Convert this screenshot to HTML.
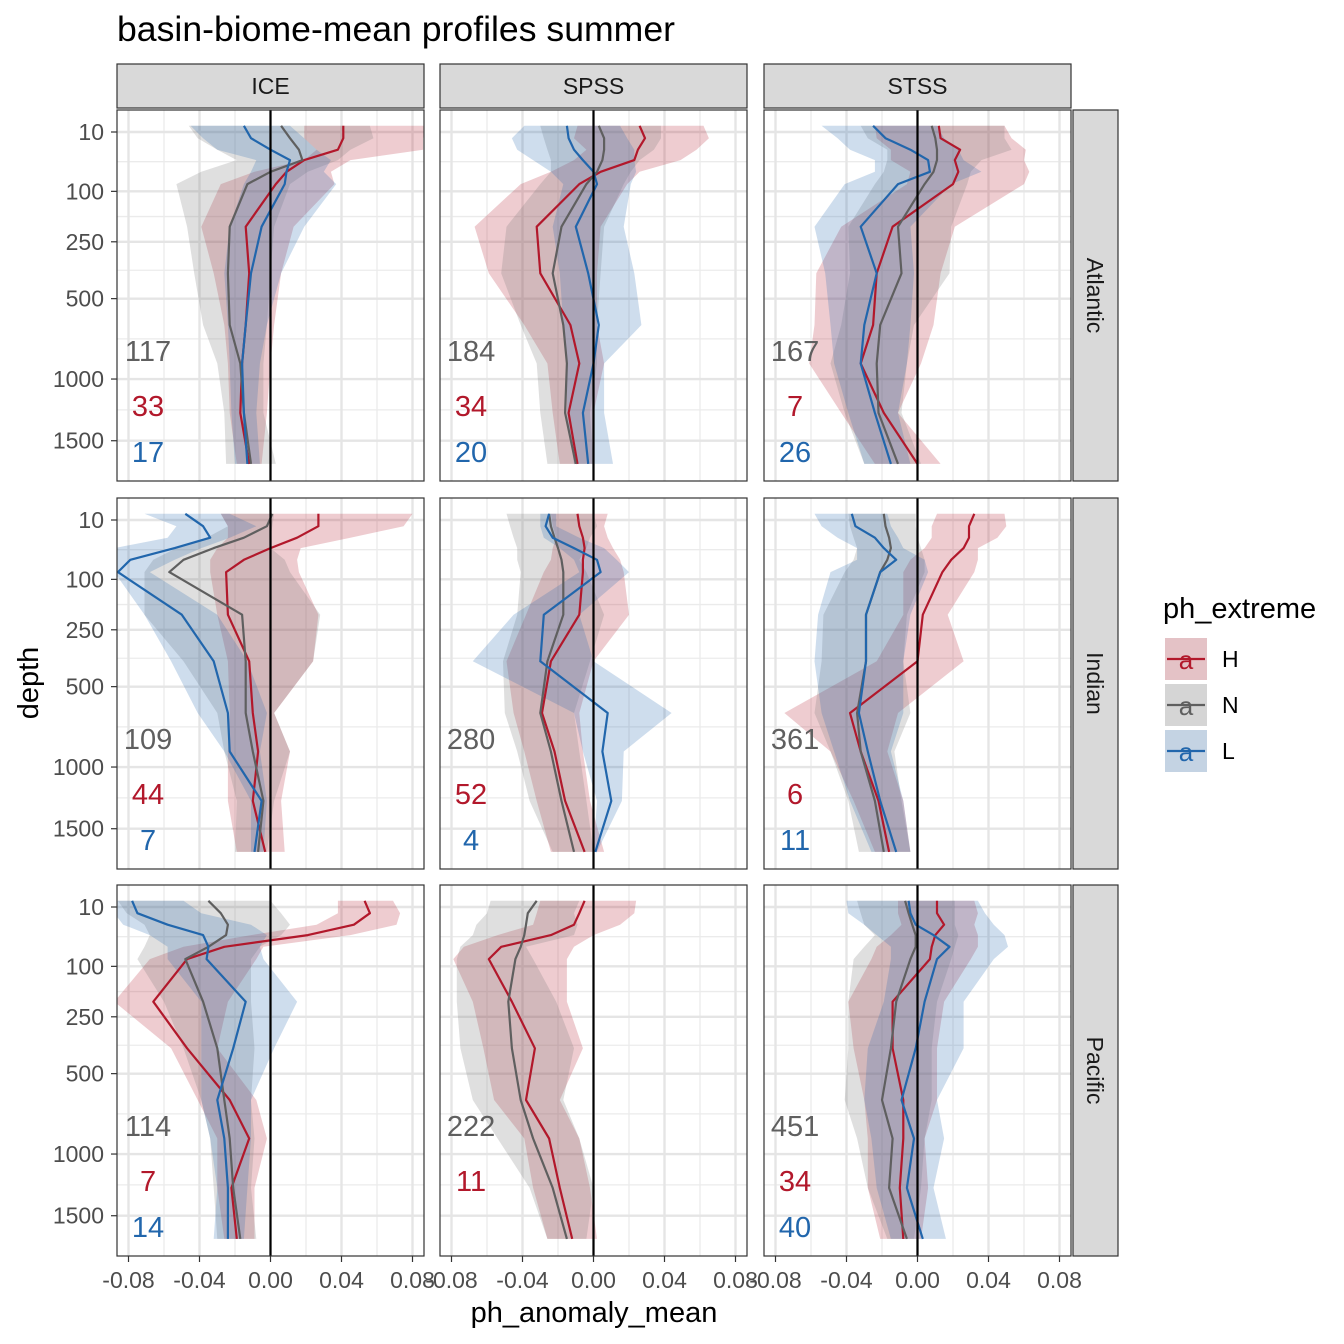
<!DOCTYPE html>
<html><head><meta charset="utf-8">
<style>
html,body{margin:0;padding:0;background:#fff;}
svg{display:block;font-family:"Liberation Sans",Arial,sans-serif;}
</style></head>
<body>
<svg id="chart" width="1344" height="1344" viewBox="0 0 1344 1344" xmlns="http://www.w3.org/2000/svg">
<rect width="1344" height="1344" fill="#fff"/>
<text x="117" y="41" font-size="35" textLength="558" lengthAdjust="spacingAndGlyphs" fill="#000">basin-biome-mean profiles summer</text>
<text x="594" y="1322" font-size="29" text-anchor="middle" fill="#000">ph_anomaly_mean</text>
<text transform="translate(38,683) rotate(-90)" font-size="29" text-anchor="middle" fill="#000">depth</text>
<g id="panels"></g>
<g id="legend">
<text x="1163" y="618" font-size="29" fill="#000">ph_extreme</text>
</g>
</svg>
<script>
// depth levels (m)
const depths = [6, 15, 27, 41, 60, 84, 198, 378, 645, 890, 1262, 1714];
const xTicks = [-0.08, -0.04, 0.00, 0.04, 0.08];
const xTickLabels = ["-0.08", "-0.04", "0.00", "0.04", "0.08"];
const yTicks = [10, 100, 250, 500, 1000, 1500];
const yTickLabels = ["10", "100", "250", "500", "1000", "1500"];
const cols = ["ICE", "SPSS", "STSS"];
const rows = ["Atlantic", "Indian", "Pacific"];
const groups = ["H", "N", "L"];
// values in units of 0.001 pH anomaly
const A_ICE_H_mean = [41,41,38,19,9,3,-14,-12,-14,-16,-17,-12];
const A_ICE_H_lo = [19,19,26,19,-9,-28,-39,-32,-26,-24,-23,-19];
const A_ICE_H_hi = [88,86,86,45,34,36,13,6,2,0,-2,-5];
const A_ICE_N_mean = [6,11,16,18,0,-13,-23,-24,-23,-17,-15,-11];
const A_ICE_N_lo = [-46,-41,-30,-19,-39,-53,-47,-43,-38,-30,-26,-25];
const A_ICE_N_hi = [56,58,45,38,21,11,2,0,-2,-4,-4,3];
const A_ICE_L_mean = [-15,-11,0,11,9,8,-5,-11,-14,-16,-15,-13];
const A_ICE_L_lo = [-45,-38,-30,-8,-11,-15,-23,-26,-24,-23,-22,-20];
const A_ICE_L_hi = [11,19,26,34,30,37,19,6,-2,-6,-8,-6];

const A_SPSS_H_mean = [26,29,25,23,4,-8,-32,-30,-13,-8,-14,-9];
const A_SPSS_H_lo = [-9,-11,-4,-11,-24,-41,-67,-59,-39,-26,-23,-19];
const A_SPSS_H_hi = [62,65,58,49,26,19,4,2,2,6,0,0];
const A_SPSS_N_mean = [3,6,6,5,2,-4,-18,-23,-17,-15,-16,-10];
const A_SPSS_N_lo = [-30,-28,-26,-24,-24,-30,-49,-52,-41,-32,-30,-26];
const A_SPSS_N_hi = [38,38,34,26,21,17,6,4,2,2,-2,0];
const A_SPSS_L_mean = [-15,-14,-11,-6,0,2,-10,-3,3,0,-6,-3];
const A_SPSS_L_lo = [-39,-46,-43,-34,-24,-17,-23,-19,-17,-15,-15,-11];
const A_SPSS_L_hi = [15,19,23,23,24,21,17,23,27,6,6,11];

const A_STSS_H_mean = [12,13,24,21,23,20,-14,-23,-25,-32,-19,0];
const A_STSS_H_lo = [-24,-23,-15,-15,-4,-6,-43,-57,-58,-61,-43,-24];
const A_STSS_H_hi = [49,53,61,60,63,60,21,13,9,2,-11,13];
const A_STSS_N_mean = [8,10,11,11,9,4,-11,-9,-21,-23,-22,-11];
const A_STSS_N_lo = [-32,-28,-17,-17,-19,-24,-39,-38,-43,-49,-41,-30];
const A_STSS_N_hi = [49,49,53,36,30,28,19,18,-2,-6,-9,2];
const A_STSS_L_mean = [-25,-18,-4,6,7,-11,-32,-23,-30,-32,-24,-15];
const A_STSS_L_lo = [-54,-45,-38,-24,-24,-41,-58,-52,-49,-47,-39,-30];
const A_STSS_L_hi = [11,15,23,26,36,19,-4,-2,-4,-6,-11,-4];

const I_ICE_H_mean = [27,27,15,0,-15,-25,-24,-12,-10,-7,-10,-3];
const I_ICE_H_lo = [-28,-24,-24,-30,-34,-34,-30,-24,-23,-24,-24,-19];
const I_ICE_H_hi = [80,75,45,17,15,16,27,24,2,11,6,8];
const I_ICE_N_mean = [1,-2,-15,-32,-49,-57,-16,-14,-14,-10,-4,-7];
const I_ICE_N_lo = [-28,-24,-36,-53,-66,-71,-71,-49,-30,-26,-19,-20];
const I_ICE_N_hi = [2,1,0,0,8,11,28,24,2,11,2,-2];
const I_ICE_L_mean = [-48,-38,-34,-54,-79,-86,-50,-32,-24,-23,-5,-9];
const I_ICE_L_lo = [-71,-53,-58,-88,-88,-88,-71,-56,-41,-26,-11,-11];
const I_ICE_L_hi = [-23,-8,-23,-39,-54,-68,-30,-13,-2,-6,-2,-4];

const I_SPSS_H_mean = [-9,-8,-6,-5,-6,-6,-8,-24,-29,-22,-16,-5];
const I_SPSS_H_lo = [-24,-23,-21,-23,-24,-28,-38,-49,-45,-39,-32,-24];
const I_SPSS_H_hi = [8,6,8,11,15,17,20,0,-8,-6,-2,6];
const I_SPSS_N_mean = [-25,-24,-22,-20,-18,-17,-17,-26,-30,-24,-18,-11];
const I_SPSS_N_lo = [-49,-47,-45,-43,-43,-41,-43,-51,-50,-43,-36,-23];
const I_SPSS_N_hi = [0,2,-2,-4,-8,-4,6,-2,-11,-8,-4,0];
const I_SPSS_L_mean = [-25,-27,-23,-11,2,4,-28,-30,8,5,10,1];
const I_SPSS_L_lo = [-30,-30,-28,-19,-11,-8,-45,-68,-11,-6,2,0];
const I_SPSS_L_hi = [-21,-21,-8,6,13,20,-8,0,44,17,16,2];

const I_STSS_H_mean = [32,29,29,26,19,14,3,0,-38,-32,-22,-16];
const I_STSS_H_lo = [11,8,8,4,-4,-8,-8,-23,-75,-49,-36,-24];
const I_STSS_H_hi = [49,50,45,34,34,32,17,26,-11,-17,-8,-4];
const I_STSS_N_mean = [-19,-18,-16,-15,-17,-21,-29,-29,-34,-32,-24,-19];
const I_STSS_N_lo = [-39,-38,-36,-34,-36,-41,-53,-54,-58,-49,-39,-33];
const I_STSS_N_hi = [-1,-1,0,2,4,4,-6,-8,-4,-13,-9,-4];
const I_STSS_L_mean = [-37,-35,-24,-19,-12,-21,-29,-29,-33,-28,-21,-12];
const I_STSS_L_lo = [-58,-54,-45,-34,-34,-49,-56,-58,-54,-47,-38,-26];
const I_STSS_L_hi = [-17,-15,-11,-8,4,6,-4,-8,-8,-15,-8,-4];

const P_ICE_H_mean = [53,56,47,21,-26,-47,-66,-47,-23,-12,-22,-19];
const P_ICE_H_lo = [38,38,26,-11,-49,-68,-88,-56,-41,-30,-30,-26];
const P_ICE_H_hi = [69,73,71,45,-4,-8,-24,-30,-8,-2,-9,-9];
const P_ICE_N_mean = [-35,-28,-24,-25,-35,-48,-38,-30,-26,-23,-21,-17];
const P_ICE_N_lo = [-86,-81,-71,-68,-71,-75,-60,-49,-39,-34,-32,-30];
const P_ICE_N_hi = [0,6,11,6,-6,-11,-11,-9,-11,-9,-11,-8];
const P_ICE_L_mean = [-78,-75,-58,-38,-35,-36,-14,-21,-30,-26,-24,-24];
const P_ICE_L_lo = [-88,-88,-83,-68,-58,-58,-39,-39,-39,-34,-30,-32];
const P_ICE_L_hi = [-49,-39,-11,-2,-6,-4,15,2,-11,-11,-13,-15];

const P_SPSS_H_mean = [-5,-8,-11,-24,-52,-59,-46,-33,-38,-25,-19,-12];
const P_SPSS_H_lo = [-30,-32,-34,-54,-73,-79,-68,-62,-56,-39,-34,-26];
const P_SPSS_H_hi = [24,23,15,0,-11,-15,-15,-6,-19,-8,-2,2];
const P_SPSS_N_mean = [-32,-37,-38,-39,-41,-44,-48,-46,-41,-34,-23,-15];
const P_SPSS_N_lo = [-58,-60,-66,-68,-75,-77,-77,-75,-68,-54,-36,-26];
const P_SPSS_N_hi = [-8,-11,-9,-11,-38,-34,-21,-11,-17,-8,0,-4];

const P_STSS_H_mean = [11,11,15,10,8,7,-14,-14,-8,-8,-10,-8];
const P_STSS_H_lo = [-11,-11,-9,-15,-23,-26,-39,-36,-30,-28,-28,-21];
const P_STSS_H_hi = [32,34,32,34,34,30,15,11,11,4,6,2];
const P_STSS_N_mean = [-7,-5,-3,-1,-1,-4,-12,-15,-20,-14,-16,-6];
const P_STSS_N_lo = [-34,-32,-30,-24,-30,-36,-39,-39,-41,-34,-28,-17];
const P_STSS_N_hi = [21,21,21,23,21,19,11,8,8,4,2,-2];
const P_STSS_L_mean = [-5,-4,-1,9,18,11,4,-1,-9,-2,-6,3];
const P_STSS_L_lo = [-40,-39,-30,-23,-15,-15,-19,-28,-30,-26,-23,-15];
const P_STSS_L_hi = [34,38,43,49,51,43,26,26,11,15,9,16];

// counts per panel [row][col]
const countsN = [[117,184,167],[109,280,361],[114,222,451]];
const countsH = [[33,34,7],[44,52,6],[7,11,34]];
const countsL = [[17,20,26],[7,4,11],[14,null,40]];

const series = {
 "0-0": {H:[A_ICE_H_mean,A_ICE_H_lo,A_ICE_H_hi],N:[A_ICE_N_mean,A_ICE_N_lo,A_ICE_N_hi],L:[A_ICE_L_mean,A_ICE_L_lo,A_ICE_L_hi]},
 "0-1": {H:[A_SPSS_H_mean,A_SPSS_H_lo,A_SPSS_H_hi],N:[A_SPSS_N_mean,A_SPSS_N_lo,A_SPSS_N_hi],L:[A_SPSS_L_mean,A_SPSS_L_lo,A_SPSS_L_hi]},
 "0-2": {H:[A_STSS_H_mean,A_STSS_H_lo,A_STSS_H_hi],N:[A_STSS_N_mean,A_STSS_N_lo,A_STSS_N_hi],L:[A_STSS_L_mean,A_STSS_L_lo,A_STSS_L_hi]},
 "1-0": {H:[I_ICE_H_mean,I_ICE_H_lo,I_ICE_H_hi],N:[I_ICE_N_mean,I_ICE_N_lo,I_ICE_N_hi],L:[I_ICE_L_mean,I_ICE_L_lo,I_ICE_L_hi]},
 "1-1": {H:[I_SPSS_H_mean,I_SPSS_H_lo,I_SPSS_H_hi],N:[I_SPSS_N_mean,I_SPSS_N_lo,I_SPSS_N_hi],L:[I_SPSS_L_mean,I_SPSS_L_lo,I_SPSS_L_hi]},
 "1-2": {H:[I_STSS_H_mean,I_STSS_H_lo,I_STSS_H_hi],N:[I_STSS_N_mean,I_STSS_N_lo,I_STSS_N_hi],L:[I_STSS_L_mean,I_STSS_L_lo,I_STSS_L_hi]},
 "2-0": {H:[P_ICE_H_mean,P_ICE_H_lo,P_ICE_H_hi],N:[P_ICE_N_mean,P_ICE_N_lo,P_ICE_N_hi],L:[P_ICE_L_mean,P_ICE_L_lo,P_ICE_L_hi]},
 "2-1": {H:[P_SPSS_H_mean,P_SPSS_H_lo,P_SPSS_H_hi],N:[P_SPSS_N_mean,P_SPSS_N_lo,P_SPSS_N_hi]},
 "2-2": {H:[P_STSS_H_mean,P_STSS_H_lo,P_STSS_H_hi],N:[P_STSS_N_mean,P_STSS_N_lo,P_STSS_N_hi],L:[P_STSS_L_mean,P_STSS_L_lo,P_STSS_L_hi]}
};

const lineCol = {H:"#b2182b", N:"#5f5f5f", L:"#2166ac"};
const fillCol = {H:"rgba(178,24,43,0.22)", N:"rgba(120,120,120,0.24)", L:"rgba(33,102,172,0.22)"};
const NS = "http://www.w3.org/2000/svg";
const colLeft = [117, 440, 764], panelW = 307;
const rowTop = [110, 498, 885], panelH = 371;

function xPix(c, v){ return colLeft[c] + 153.5 + v * 1775; }
function yPix(r, d){ return rowTop[r] + 22 + (Math.sqrt(d) - Math.sqrt(10)) * 8.68; }
function yMid(r, a, b){ return rowTop[r] + 22 + ((Math.sqrt(a)+Math.sqrt(b))/2 - Math.sqrt(10)) * 8.68; }
function mk(tag, attrs, parent){ const e = document.createElementNS(NS, tag); for (const k in attrs) e.setAttribute(k, attrs[k]); parent.appendChild(e); return e; }

const root = document.getElementById('panels');
const defs = mk('defs', {}, root);

for (let r = 0; r < 3; r++) {
 for (let c = 0; c < 3; c++) {
  const L = colLeft[c], T = rowTop[r];
  const g = mk('g', {}, root);
  
  
  const cp = mk('clipPath', {id: 'cp' + r + c}, defs);
  mk('rect', {x: L, y: T, width: panelW, height: panelH}, cp);
  mk('rect', {x: L, y: T, width: panelW, height: panelH, fill: '#fff'}, g);
  const minorX = [-0.06, -0.02, 0.02, 0.06];
  minorX.forEach(v => { mk('line', {x1: xPix(c, v), x2: xPix(c, v), y1: T, y2: T + panelH, stroke: '#ebebeb', 'stroke-width': 1.3}, g); });
  for (let i = 0; i < yTicks.length - 1; i++) {
   const y = yMid(r, yTicks[i], yTicks[i+1]);
   mk('line', {x1: L, x2: L + panelW, y1: y, y2: y, stroke: '#ebebeb', 'stroke-width': 1.3}, g);
  }
  xTicks.forEach(v => { mk('line', {x1: xPix(c, v), x2: xPix(c, v), y1: T, y2: T + panelH, stroke: '#e5e5e5', 'stroke-width': 2.4}, g); });
  yTicks.forEach(d => { const y = yPix(r, d); mk('line', {x1: L, x2: L + panelW, y1: y, y2: y, stroke: '#e5e5e5', 'stroke-width': 2.4}, g); });

  const dg = mk('g', {'clip-path': 'url(#cp' + r + c + ')'}, g);
  const s = series[r + '-' + c];
  groups.forEach(k => {
   if (!s[k]) return;
   const [m, lo, hi] = s[k];
   let pts = [];
   for (let i = 0; i < depths.length; i++) pts.push(xPix(c, lo[i]/1000).toFixed(1) + ',' + yPix(r, depths[i]).toFixed(1));
   for (let i = depths.length - 1; i >= 0; i--) pts.push(xPix(c, hi[i]/1000).toFixed(1) + ',' + yPix(r, depths[i]).toFixed(1));
   const rb = mk('polygon', {points: pts.join(' '), fill: fillCol[k]}, dg);
   
   
  });
  groups.forEach(k => {
   if (!s[k]) return;
   const m = s[k][0];
   const pts = depths.map((d, i) => xPix(c, m[i]/1000).toFixed(1) + ',' + yPix(r, d).toFixed(1));
   const ln = mk('polyline', {points: pts.join(' '), fill: 'none', stroke: lineCol[k], 'stroke-width': 2.2, 'stroke-linejoin': 'round'}, dg);
   
   
  });
  mk('line', {x1: xPix(c, 0), x2: xPix(c, 0), y1: T, y2: T + panelH, stroke: '#000', 'stroke-width': 2.2}, g);
  const cx = xPix(c, -0.069);
  const cN = mk('text', {x: cx, y: T + 251, 'font-size': 29, 'text-anchor': 'middle', fill: '#5f5f5f'}, g);
  cN.textContent = countsN[r][c];
  
  
  const cH = mk('text', {x: cx, y: T + 306, 'font-size': 29, 'text-anchor': 'middle', fill: '#b2182b'}, g);
  cH.textContent = countsH[r][c];
  
  
  if (countsL[r][c] !== null) {
   const cL = mk('text', {x: cx, y: T + 352, 'font-size': 29, 'text-anchor': 'middle', fill: '#2166ac'}, g);
   cL.textContent = countsL[r][c];
   
   
  }
  mk('rect', {x: L, y: T, width: panelW, height: panelH, fill: 'none', stroke: '#333', 'stroke-width': 1.2}, g);

  if (c === 0) {
   yTicks.forEach((d, i) => {
    const y = yPix(r, d);
    mk('line', {x1: L - 6, x2: L, y1: y, y2: y, stroke: '#333', 'stroke-width': 1.2}, root);
    const t = mk('text', {x: L - 13, y: y + 8, 'font-size': 23, 'text-anchor': 'end', fill: '#4d4d4d'}, root);
    t.textContent = yTickLabels[i];
    
    
   });
  }
  if (r === 2) {
   xTicks.forEach((v, i) => {
    const x = xPix(c, v);
    mk('line', {x1: x, x2: x, y1: T + panelH, y2: T + panelH + 6, stroke: '#333', 'stroke-width': 1.2}, root);
    const t = mk('text', {x: x, y: T + panelH + 32, 'font-size': 23, 'text-anchor': 'middle', fill: '#4d4d4d'}, root);
    t.textContent = xTickLabels[i];
    
    
   });
  }
 }
}
cols.forEach((name, c) => {
 const g = mk('g', {}, root);
 
 
 mk('rect', {x: colLeft[c], y: 64, width: panelW, height: 44, fill: '#d9d9d9', stroke: '#333', 'stroke-width': 1.2}, g);
 const t = mk('text', {x: colLeft[c] + panelW/2, y: 94, 'font-size': 23, 'text-anchor': 'middle', fill: '#1a1a1a'}, g);
 t.textContent = name;
});
rows.forEach((name, r) => {
 const g = mk('g', {}, root);
 
 
 mk('rect', {x: 1073, y: rowTop[r], width: 45, height: panelH, fill: '#d9d9d9', stroke: '#333', 'stroke-width': 1.2}, g);
 const cy = rowTop[r] + panelH/2;
 const t = mk('text', {x: 0, y: 0, 'font-size': 23, 'text-anchor': 'middle', fill: '#1a1a1a', transform: 'translate(1087,' + cy + ') rotate(90)'}, g);
 t.textContent = name;
});
const lg = document.getElementById('legend');
groups.forEach((k, i) => {
 const y0 = 638 + i * 46;
 const g = mk('g', {}, lg);
 
 
 mk('rect', {x: 1165, y: y0, width: 42, height: 42, fill: '#f2f2f2'}, g);
 mk('rect', {x: 1165, y: y0, width: 42, height: 42, fill: fillCol[k]}, g);
 mk('line', {x1: 1167, x2: 1205, y1: y0 + 21, y2: y0 + 21, stroke: lineCol[k], 'stroke-width': 2.2}, g);
 const a = mk('text', {x: 1186, y: y0 + 31, 'font-size': 26, 'text-anchor': 'middle', fill: lineCol[k]}, g);
 a.textContent = 'a';
 const t = mk('text', {x: 1222, y: y0 + 29, 'font-size': 23, fill: '#000'}, g);
 t.textContent = k;
});
</script>
</body></html>
